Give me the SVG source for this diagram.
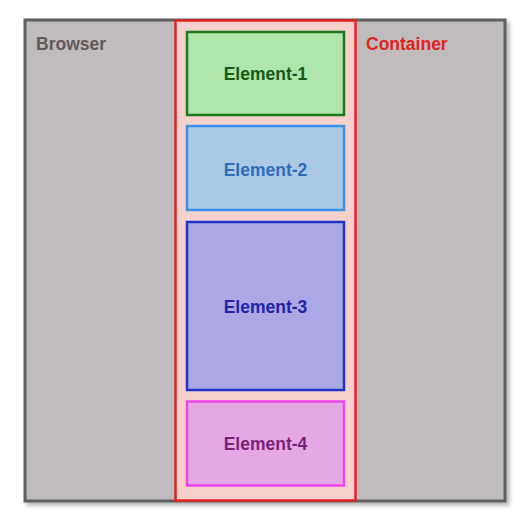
<svg xmlns="http://www.w3.org/2000/svg" width="530" height="529" viewBox="0 0 530 529">
<defs>
<filter id="sh" x="-5%" y="-5%" width="115%" height="115%">
<feGaussianBlur in="SourceAlpha" stdDeviation="2"/>
<feOffset dx="3" dy="3" result="b"/>
<feComponentTransfer><feFuncA type="linear" slope="0.3"/></feComponentTransfer>
<feMerge><feMergeNode/><feMergeNode in="SourceGraphic"/></feMerge>
</filter>
<style>
text{font-family:"Liberation Sans",Arial,sans-serif;font-weight:bold;font-size:17.5px}
.el{stroke-width:2.5}
.c{text-anchor:middle}
</style>
</defs>
<rect width="530" height="529" fill="#ffffff"/>
<g id="browser">
<rect x="25" y="20" width="480" height="481" fill="#c0bbbc" stroke="#5f5f5f" stroke-width="3" filter="url(#sh)"/>
<text x="36" y="49.5" fill="#5f5a5b">Browser</text>
</g>
<g id="container">
<rect x="175.5" y="20.5" width="180" height="480" fill="#f6d0cd" stroke="#e0231f" stroke-width="2.5"/>
<text x="366" y="49.5" fill="#e0231f">Container</text>
</g>
<g id="element-1">
<rect class="el" x="187" y="32" width="157" height="83" fill="#ade5ab" stroke="#1c7a1c"/>
<text class="c" x="265.5" y="80" fill="#175917">Element-1</text>
</g>
<g id="element-2">
<rect class="el" x="187" y="126" width="157" height="84" fill="#a9c9e5" stroke="#3b90e6"/>
<text class="c" x="265.5" y="176" fill="#2e6cb8">Element-2</text>
</g>
<g id="element-3">
<rect class="el" x="187" y="222" width="157" height="168" fill="#aaa9e6" stroke="#2233cc"/>
<text class="c" x="265.5" y="313" fill="#2323a8">Element-3</text>
</g>
<g id="element-4">
<rect class="el" x="187" y="401.5" width="157" height="84" fill="#e4a9e5" stroke="#ee44ea"/>
<text class="c" x="265.5" y="450" fill="#7a1f78">Element-4</text>
</g>
<g id="connectors"/>
</svg>
